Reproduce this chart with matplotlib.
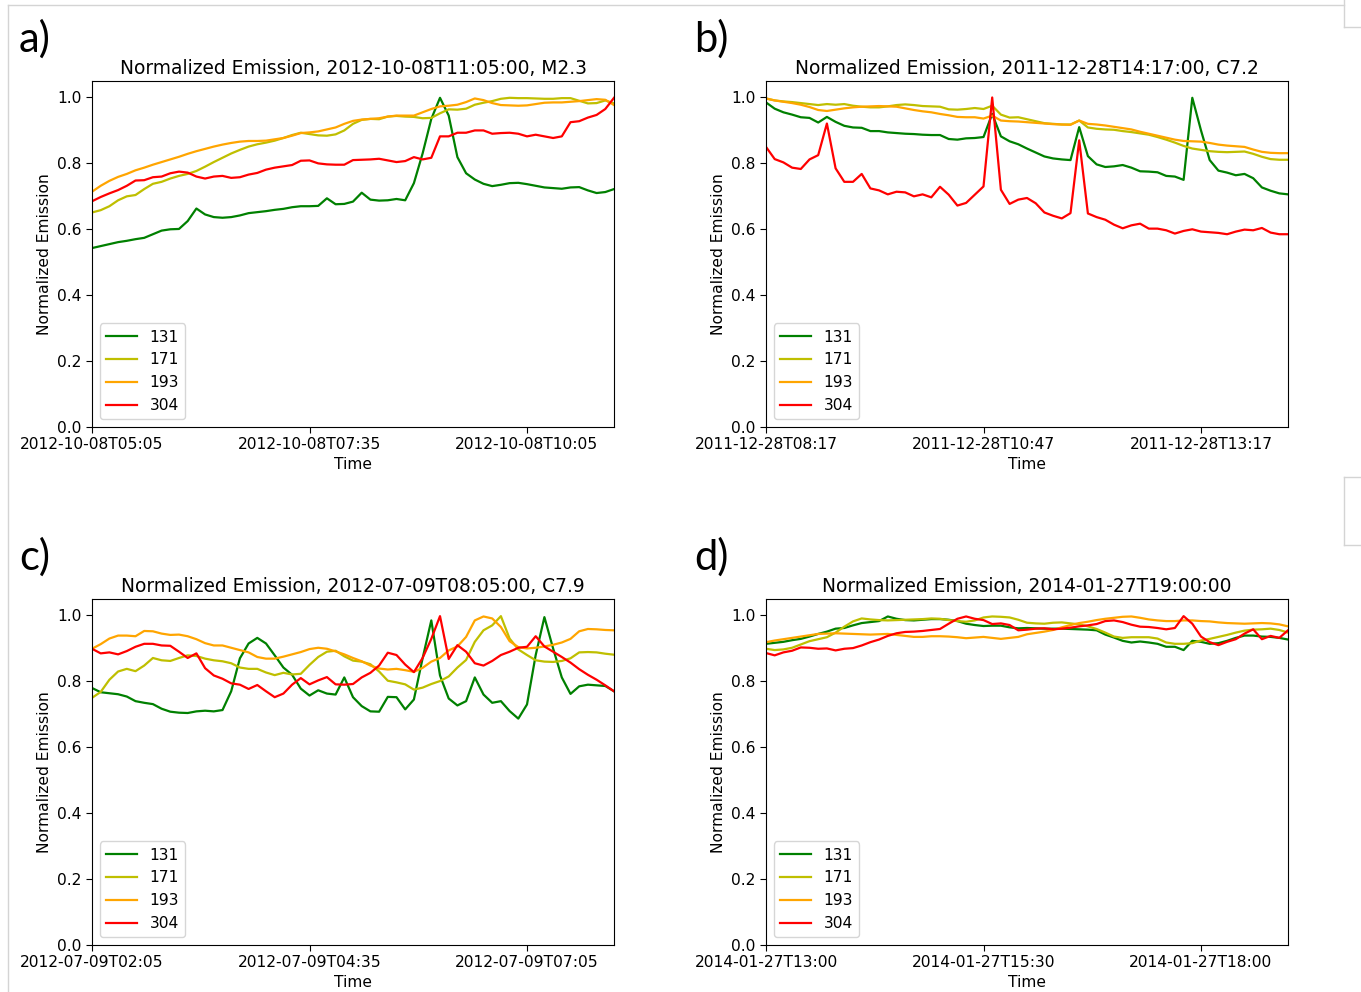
import pandas as pd
import matplotlib
matplotlib.use("Agg")
import matplotlib.pyplot as plt
import matplotlib.dates as mdates
from matplotlib.lines import Line2D

# ___DATA___ #
# every series is sampled every 6 minutes over 6 hours (61 points)
wavelengths = ["131", "171", "193", "304"]
line_colors = ["green", "y", "orange", "red"]

a_start = "2012-10-08 05:05"
a_title = "Normalized Emission, 2012-10-08T11:05:00, M2.3"
a_131 = [0.543, 0.549, 0.555, 0.561, 0.565, 0.570, 0.574, 0.585, 0.596, 0.600,
         0.601, 0.625, 0.663, 0.645, 0.637, 0.635, 0.637, 0.642, 0.649, 0.652,
         0.655, 0.659, 0.662, 0.667, 0.670, 0.670, 0.671, 0.694, 0.676, 0.677,
         0.684, 0.711, 0.690, 0.687, 0.688, 0.692, 0.688, 0.740, 0.830, 0.935,
         0.999, 0.945, 0.819, 0.770, 0.751, 0.738, 0.731, 0.735, 0.740, 0.741,
         0.737, 0.732, 0.727, 0.725, 0.723, 0.727, 0.728, 0.718, 0.710, 0.713,
         0.722]
a_171 = [0.651, 0.658, 0.670, 0.688, 0.700, 0.704, 0.722, 0.738, 0.744, 0.754,
         0.762, 0.768, 0.777, 0.790, 0.804, 0.817, 0.830, 0.841, 0.851, 0.858,
         0.863, 0.869, 0.877, 0.886, 0.893, 0.889, 0.885, 0.884, 0.888, 0.900,
         0.920, 0.932, 0.935, 0.934, 0.942, 0.944, 0.942, 0.941, 0.937, 0.938,
         0.952, 0.964, 0.963, 0.966, 0.978, 0.984, 0.989, 0.996, 0.999, 0.998,
         0.998, 0.997, 0.996, 0.996, 0.998, 0.998, 0.990, 0.982, 0.983, 0.991,
         0.982]
a_193 = [0.714, 0.732, 0.747, 0.759, 0.768, 0.779, 0.787, 0.796, 0.804, 0.812,
         0.820, 0.829, 0.837, 0.844, 0.851, 0.857, 0.862, 0.866, 0.868, 0.868,
         0.869, 0.873, 0.877, 0.884, 0.892, 0.894, 0.897, 0.903, 0.909, 0.920,
         0.929, 0.933, 0.935, 0.937, 0.942, 0.945, 0.945, 0.945, 0.955, 0.965,
         0.973, 0.975, 0.978, 0.986, 0.997, 0.992, 0.983, 0.977, 0.976, 0.975,
         0.976, 0.980, 0.984, 0.985, 0.985, 0.987, 0.989, 0.992, 0.995, 0.993,
         0.977]
a_304 = [0.685, 0.698, 0.709, 0.719, 0.732, 0.748, 0.749, 0.758, 0.760, 0.770,
         0.775, 0.772, 0.760, 0.754, 0.760, 0.762, 0.756, 0.758, 0.766, 0.771,
         0.781, 0.787, 0.791, 0.795, 0.808, 0.809, 0.800, 0.797, 0.796, 0.796,
         0.810, 0.811, 0.812, 0.814, 0.809, 0.804, 0.807, 0.819, 0.812, 0.817,
         0.882, 0.882, 0.893, 0.893, 0.900, 0.900, 0.890, 0.892, 0.893, 0.890,
         0.882, 0.887, 0.882, 0.877, 0.882, 0.925, 0.928, 0.939, 0.947, 0.965,
         0.999]

b_start = "2011-12-28 08:17"
b_title = "Normalized Emission, 2011-12-28T14:17:00, C7.2"
b_131 = [0.985, 0.966, 0.955, 0.948, 0.940, 0.938, 0.924, 0.941, 0.926, 0.914,
         0.909, 0.908, 0.898, 0.898, 0.894, 0.892, 0.890, 0.889, 0.887, 0.886,
         0.886, 0.874, 0.872, 0.876, 0.877, 0.880, 0.950, 0.882, 0.867, 0.858,
         0.845, 0.833, 0.821, 0.815, 0.812, 0.810, 0.910, 0.822, 0.797, 0.789,
         0.791, 0.795, 0.787, 0.776, 0.775, 0.773, 0.762, 0.760, 0.750, 0.999,
         0.900, 0.810, 0.778, 0.772, 0.764, 0.768, 0.755, 0.727, 0.717, 0.709,
         0.706]
b_171 = [0.997, 0.991, 0.988, 0.986, 0.983, 0.980, 0.977, 0.980, 0.978, 0.980,
         0.975, 0.972, 0.970, 0.970, 0.973, 0.977, 0.979, 0.977, 0.974, 0.973,
         0.972, 0.964, 0.963, 0.965, 0.968, 0.965, 0.975, 0.948, 0.939, 0.940,
         0.934, 0.928, 0.922, 0.920, 0.918, 0.918, 0.930, 0.909, 0.905, 0.903,
         0.902, 0.898, 0.895, 0.891, 0.887, 0.880, 0.872, 0.863, 0.853, 0.845,
         0.841, 0.837, 0.835, 0.834, 0.835, 0.836, 0.829, 0.820, 0.813, 0.811,
         0.811]
b_193 = [0.997, 0.991, 0.987, 0.983, 0.978, 0.971, 0.962, 0.959, 0.963, 0.967,
         0.970, 0.972, 0.973, 0.974, 0.973, 0.972, 0.967, 0.962, 0.958, 0.955,
         0.950, 0.946, 0.941, 0.940, 0.940, 0.936, 0.945, 0.930, 0.928, 0.927,
         0.925, 0.923, 0.921, 0.919, 0.918, 0.917, 0.930, 0.920, 0.918, 0.915,
         0.911, 0.907, 0.903, 0.896, 0.890, 0.884, 0.878, 0.872, 0.868, 0.867,
         0.866, 0.862, 0.857, 0.854, 0.852, 0.850, 0.842, 0.835, 0.832, 0.831,
         0.831]
b_304 = [0.850, 0.813, 0.803, 0.787, 0.783, 0.812, 0.825, 0.921, 0.785, 0.744,
         0.744, 0.768, 0.724, 0.718, 0.706, 0.714, 0.712, 0.700, 0.706, 0.697,
         0.729, 0.705, 0.672, 0.680, 0.705, 0.730, 1.000, 0.720, 0.677, 0.690,
         0.695, 0.679, 0.651, 0.641, 0.633, 0.649, 0.870, 0.648, 0.637, 0.629,
         0.614, 0.603, 0.612, 0.617, 0.602, 0.602, 0.597, 0.587, 0.595, 0.600,
         0.593, 0.591, 0.589, 0.585, 0.593, 0.599, 0.597, 0.604, 0.590, 0.585,
         0.585]

c_start = "2012-07-09 02:05"
c_title = "Normalized Emission, 2012-07-09T08:05:00, C7.9"
c_131 = [0.780, 0.767, 0.764, 0.761, 0.754, 0.740, 0.735, 0.731, 0.717, 0.708,
         0.705, 0.704, 0.709, 0.711, 0.709, 0.713, 0.770, 0.870, 0.915, 0.932,
         0.915, 0.879, 0.842, 0.820, 0.778, 0.757, 0.773, 0.763, 0.760, 0.812,
         0.752, 0.725, 0.709, 0.708, 0.753, 0.752, 0.715, 0.745, 0.870, 0.985,
         0.818, 0.748, 0.727, 0.740, 0.812, 0.760, 0.735, 0.740, 0.710, 0.687,
         0.730, 0.880, 0.995, 0.900, 0.812, 0.762, 0.785, 0.790, 0.788, 0.786,
         0.770]
c_171 = [0.750, 0.768, 0.805, 0.830, 0.838, 0.831, 0.848, 0.871, 0.864, 0.862,
         0.871, 0.879, 0.877, 0.869, 0.864, 0.861, 0.855, 0.842, 0.838, 0.838,
         0.827, 0.819, 0.826, 0.821, 0.823, 0.850, 0.874, 0.890, 0.893, 0.876,
         0.863, 0.860, 0.852, 0.830, 0.802, 0.797, 0.791, 0.775, 0.781, 0.792,
         0.801, 0.815, 0.842, 0.865, 0.920, 0.955, 0.970, 0.998, 0.930, 0.897,
         0.880, 0.864, 0.860, 0.859, 0.862, 0.870, 0.888, 0.889, 0.888, 0.884,
         0.881]
c_193 = [0.899, 0.913, 0.930, 0.939, 0.939, 0.937, 0.953, 0.952, 0.945, 0.941,
         0.942, 0.937, 0.928, 0.916, 0.909, 0.909, 0.902, 0.895, 0.888, 0.874,
         0.869, 0.869, 0.875, 0.882, 0.889, 0.898, 0.902, 0.899, 0.891, 0.882,
         0.871, 0.861, 0.848, 0.839, 0.836, 0.838, 0.834, 0.829, 0.841, 0.860,
         0.871, 0.894, 0.906, 0.935, 0.985, 0.997, 0.991, 0.965, 0.922, 0.904,
         0.900, 0.902, 0.906, 0.911, 0.918, 0.929, 0.952, 0.959, 0.958, 0.956,
         0.955]
c_304 = [0.899, 0.885, 0.888, 0.882, 0.892, 0.905, 0.914, 0.914, 0.909, 0.908,
         0.890, 0.871, 0.885, 0.840, 0.818, 0.808, 0.794, 0.790, 0.777, 0.789,
         0.770, 0.752, 0.763, 0.790, 0.810, 0.791, 0.803, 0.813, 0.791, 0.790,
         0.792, 0.812, 0.826, 0.848, 0.887, 0.880, 0.851, 0.828, 0.871, 0.929,
         0.998, 0.868, 0.910, 0.890, 0.855, 0.848, 0.862, 0.880, 0.890, 0.902,
         0.905, 0.937, 0.906, 0.890, 0.874, 0.857, 0.837, 0.820, 0.805, 0.788,
         0.770]

d_start = "2014-01-27 13:00"
d_title = "Normalized Emission, 2014-01-27T19:00:00"
d_131 = [0.914, 0.917, 0.920, 0.925, 0.929, 0.936, 0.944, 0.951, 0.960, 0.962,
         0.970, 0.977, 0.980, 0.983, 0.997, 0.990, 0.986, 0.985, 0.987, 0.989,
         0.989, 0.987, 0.983, 0.975, 0.971, 0.968, 0.969, 0.969, 0.964, 0.961,
         0.962, 0.961, 0.960, 0.960, 0.960, 0.959, 0.958, 0.957, 0.955, 0.942,
         0.933, 0.923, 0.918, 0.921, 0.918, 0.914, 0.905, 0.905, 0.895, 0.923,
         0.920, 0.914, 0.916, 0.923, 0.932, 0.939, 0.939, 0.936, 0.935, 0.932,
         0.927]
d_171 = [0.899, 0.895, 0.897, 0.902, 0.912, 0.922, 0.928, 0.934, 0.948, 0.966,
         0.982, 0.991, 0.988, 0.986, 0.985, 0.986, 0.987, 0.988, 0.989, 0.991,
         0.990, 0.986, 0.983, 0.981, 0.985, 0.994, 0.997, 0.996, 0.994, 0.987,
         0.978, 0.976, 0.975, 0.978, 0.979, 0.976, 0.973, 0.967, 0.959, 0.948,
         0.936, 0.932, 0.934, 0.934, 0.934, 0.930, 0.918, 0.914, 0.914, 0.916,
         0.924, 0.929, 0.935, 0.941, 0.948, 0.954, 0.957, 0.958, 0.960, 0.956,
         0.948]
d_193 = [0.919, 0.924, 0.928, 0.932, 0.936, 0.940, 0.944, 0.945, 0.946, 0.945,
         0.944, 0.943, 0.942, 0.943, 0.944, 0.941, 0.938, 0.935, 0.935, 0.937,
         0.937, 0.936, 0.934, 0.931, 0.933, 0.935, 0.932, 0.929, 0.932, 0.935,
         0.943, 0.947, 0.951, 0.956, 0.964, 0.971, 0.977, 0.981, 0.986, 0.990,
         0.993, 0.996, 0.997, 0.993, 0.988, 0.985, 0.983, 0.983, 0.985, 0.985,
         0.983, 0.982, 0.979, 0.977, 0.976, 0.975, 0.976, 0.977, 0.976, 0.973,
         0.967]
d_304 = [0.886, 0.879, 0.888, 0.893, 0.903, 0.902, 0.899, 0.900, 0.894, 0.899,
         0.901, 0.909, 0.919, 0.927, 0.938, 0.946, 0.950, 0.951, 0.953, 0.956,
         0.959, 0.975, 0.990, 0.997, 0.990, 0.986, 0.974, 0.976, 0.971, 0.955,
         0.957, 0.960, 0.961, 0.958, 0.960, 0.963, 0.967, 0.970, 0.974, 0.983,
         0.985, 0.980, 0.972, 0.966, 0.965, 0.962, 0.958, 0.962, 0.998, 0.975,
         0.936, 0.919, 0.910, 0.920, 0.928, 0.945, 0.958, 0.928, 0.938, 0.932,
         0.955]

panels = [
    ("a)", a_start, a_title, [a_131, a_171, a_193, a_304]),
    ("b)", b_start, b_title, [b_131, b_171, b_193, b_304]),
    ("c)", c_start, c_title, [c_131, c_171, c_193, c_304]),
    ("d)", d_start, d_title, [d_131, d_171, d_193, d_304]),
]

# ___LAYOUT___ #
W, H = 1361, 992
# axes boxes in pixels: left, top, right, bottom
boxes = [(92, 81, 614, 427), (766, 81, 1288, 427),
         (92, 599, 614, 945), (766, 599, 1288, 945)]
# where the panel letters go (pixels, top-left)
letter_pos = [(19, 19), (694, 19), (19, 537), (694, 537)]

# the panels were pasted in a bit enlarged, so the text is bigger than default
plt.rcParams["font.size"] = 11.2

fig = plt.figure(figsize=(W / 100, H / 100), dpi=100)


def draw_panel(box, start, title, series):
    x0, y0, x1, y1 = box
    ax = fig.add_axes([x0 / W, 1 - y1 / H, (x1 - x0) / W, (y1 - y0) / H])
    times = pd.date_range(start, periods=len(series[0]), freq="6min")
    for vals, name, col in zip(series, wavelengths, line_colors):
        ax.plot(times, vals, color=col, label=name, lw=1.6)
    ax.set_xlim(times[0], times[-1])
    ax.set_ylim(0, 1.05)
    # a tick every 2.5 hours from the first sample
    ax.set_xticks(pd.date_range(start, periods=3, freq="150min"))
    ax.xaxis.set_major_formatter(mdates.DateFormatter("%Y-%m-%dT%H:%M"))
    ax.tick_params(length=4)
    ax.set_title(title, fontsize=13.4, pad=5)
    ax.set_xlabel("Time", labelpad=3)
    ax.set_ylabel("Normalized Emission")
    ax.legend(loc="lower left")
    return ax


for (letter, start, title, series), box, (lx, ly) in zip(panels, boxes, letter_pos):
    draw_panel(box, start, title, series)
    fig.text(lx / W, 1 - ly / H, letter, fontsize=30, family="Lato",
             ha="left", va="top")

# faint page edges from the document the figure was pasted into
edge = dict(color="#d4d4d4", lw=1)
fig.add_artist(Line2D([8 / W, 1344 / W], [1 - 5 / H, 1 - 5 / H], **edge))
fig.add_artist(Line2D([8 / W, 8 / W], [1 - 5 / H, 0], **edge))
fig.add_artist(Line2D([1344 / W, 1344 / W], [1, 1 - 27 / H], **edge))
fig.add_artist(Line2D([1344 / W, 1], [1 - 27 / H, 1 - 27 / H], **edge))
fig.add_artist(Line2D([1344 / W, 1344 / W], [1 - 477 / H, 1 - 545 / H], **edge))
fig.add_artist(Line2D([1344 / W, 1], [1 - 477 / H, 1 - 477 / H], **edge))
fig.add_artist(Line2D([1344 / W, 1], [1 - 545 / H, 1 - 545 / H], **edge))

fig.savefig("out.png", dpi=100)
